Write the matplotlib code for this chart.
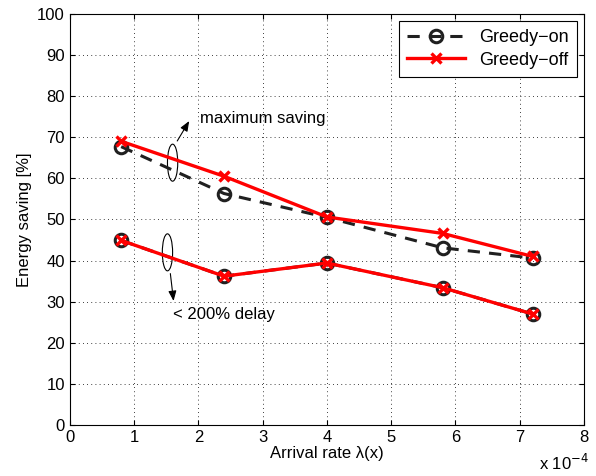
import matplotlib.pyplot as plt
from matplotlib.patches import Ellipse

plt.rcParams['font.family'] = ['Liberation Sans', 'DejaVu Sans']
plt.rcParams['font.size'] = 12

# arrival rate in units of 1e-4
rate = [0.8, 2.4, 4.0, 5.8, 7.2]

on_max = [67.7, 56.3, 50.5, 43.1, 40.6]
off_max = [69.0, 60.5, 50.6, 46.6, 41.0]
on_delay = [44.9, 36.2, 39.4, 33.4, 27.0]
off_delay = [44.9, 36.2, 39.4, 33.4, 27.0]

xticks = [0, 1, 2, 3, 4, 5, 6, 7, 8]
yticks = [0, 10, 20, 30, 40, 50, 60, 70, 80, 90, 100]

fig = plt.figure(figsize=(5.96, 4.76), dpi=100)
ax = fig.add_axes([0.117, 0.107, 0.863, 0.864])

on_style = dict(color='#202020', ls='--', lw=2.2, marker='o', ms=9,
                mfc='none', mec='#202020', mew=2.2, dashes=(4, 3))
off_style = dict(color='red', ls='-', lw=2.4, marker='x', ms=7, mew=2.4)

ax.plot(rate, on_max, label='Greedy\u2212on', **on_style)
ax.plot(rate, on_delay, **on_style)
ax.plot(rate, off_max, label='Greedy\u2212off', **off_style)
ax.plot(rate, off_delay, **off_style)

ax.set_xlim(0, 8)
ax.set_ylim(0, 100)
ax.set_xticks(xticks)
ax.set_yticks(yticks)
ax.tick_params(direction='in', top=True, right=True, labelsize=12)
ax.grid(True, color='black', lw=0.6, dashes=(1, 4))
ax.set_xlabel('Arrival rate \u03bb(x)', labelpad=1)
ax.set_ylabel('Energy saving [%]', labelpad=4)

leg = ax.legend(loc='upper right', fancybox=False, edgecolor='black',
                framealpha=1, handlelength=3.2, borderpad=0.45,
                labelspacing=0.3, fontsize=13, borderaxespad=0.4)
leg.get_frame().set_linewidth(0.8)

# annotations
ax.add_patch(Ellipse((1.60, 63.8), 0.16, 9.0, fill=False, lw=0.8, color='black'))
ax.annotate('', xy=(1.88, 74.5), xytext=(1.65, 68.5),
            arrowprops=dict(arrowstyle='-|>,head_length=0.5,head_width=0.2',
                            color='black', lw=0.8))
ax.text(2.03, 74.5, 'maximum saving', va='center', ha='left', fontsize=12)

ax.add_patch(Ellipse((1.52, 42.0), 0.16, 9.0, fill=False, lw=0.8, color='black'))
ax.annotate('', xy=(1.62, 29.5), xytext=(1.56, 37.5),
            arrowprops=dict(arrowstyle='-|>,head_length=0.5,head_width=0.2',
                            color='black', lw=0.8))
ax.text(1.61, 27.0, '< 200% delay', va='center', ha='left', fontsize=12)

fig.text(0.905, 0.012, r'x 10$^{-4}$', fontsize=12)

fig.savefig('out.png', dpi=100)
